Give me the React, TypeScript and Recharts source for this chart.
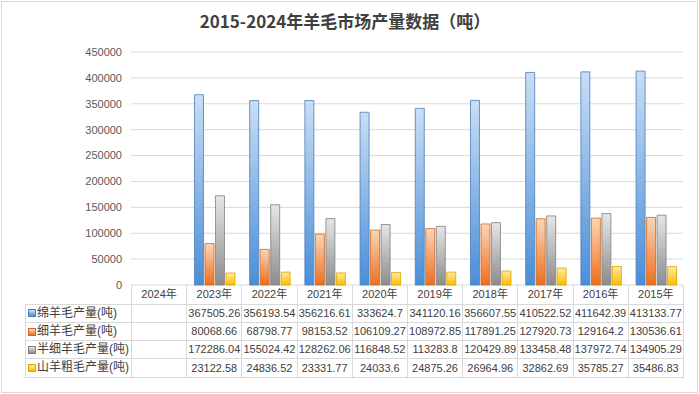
import React from 'react';
import { BarChart, Bar, XAxis, YAxis, CartesianGrid } from 'recharts';

const years = ['2024年', '2023年', '2022年', '2021年', '2020年', '2019年', '2018年', '2017年', '2016年', '2015年'];
const seriesNames = ['绵羊毛产量(吨)', '细羊毛产量(吨)', '半细羊毛产量(吨)', '山羊粗毛产量(吨)'];

const mianyang: (number | null)[] = [null, 367505.26, 356193.54, 356216.61, 333624.7, 341120.16, 356607.55, 410522.52, 411642.39, 413133.77];
const xiyang: (number | null)[] = [null, 80068.66, 68798.77, 98153.52, 106109.27, 108972.85, 117891.25, 127920.73, 129164.2, 130536.61];
const banxi: (number | null)[] = [null, 172286.04, 155024.42, 128262.06, 116848.52, 113283.8, 120429.89, 133458.48, 137972.74, 134905.29];
const shanyang: (number | null)[] = [null, 23122.58, 24836.52, 23331.77, 24033.6, 24875.26, 26964.96, 32862.69, 35785.27, 35486.83];

const yTicks = [0, 50000, 100000, 150000, 200000, 250000, 300000, 350000, 400000, 450000];

const seriesValues = [mianyang, xiyang, banxi, shanyang];
const keys = ['s0', 's1', 's2', 's3'];

// gradient top, gradient bottom, outline
const colors = [
  ['#c9def4', '#4a8ed8', '#4a7ebb'],
  ['#fcd6b8', '#ec6f1f', '#c8672a'],
  ['#e6e6e6', '#8c8c8c', '#808080'],
  ['#ffeaa0', '#ffbd00', '#d9a300'],
];

const data = years.map((y, i) => {
  const row: any = { year: y };
  seriesValues.forEach((vals, k) => {
    row[keys[k]] = vals[i];
  });
  return row;
});

const W = 699;
const H = 394;
const plotLeft = 131;
const plotRight = 683;
const plotTop = 52;
const plotBottom = 285;
const colW = (plotRight - plotLeft) / years.length;
const labelLeft = 25;

const font = '"Liberation Sans", "Noto Sans CJK SC", sans-serif';
const border = '1px solid #d9d9d9';

const App: React.FC = () => {
  const rowHeights = [18, 18, 18, 18];
  return (
    <div style={{ position: 'absolute', left: 0, top: 0, width: W, height: H, background: '#fff', fontFamily: font }}>
      <div
        style={{
          position: 'absolute', left: 1, top: 1, width: W - 4, height: H - 4,
          border: border, boxSizing: 'content-box',
        }}
      />
      <div
        style={{
          position: 'absolute', left: 0, top: 8, width: 690, textAlign: 'center',
          fontFamily: '"Noto Sans CJK SC", sans-serif', fontWeight: 'bold', fontSize: 17, color: '#404040',
        }}
      >
        2015-2024年羊毛市场产量数据（吨）
      </div>
      <div style={{ position: 'absolute', left: 0, top: 0 }}>
        <BarChart
          width={W}
          height={H}
          data={data}
          margin={{ top: plotTop, right: W - plotRight, left: 0, bottom: H - plotBottom }}
          barCategoryGap="15%"
          barGap={1.5}
        >
          <defs>
            {colors.map((c, i) => (
              <linearGradient key={i} id={'grad' + i} x1="0" y1="0" x2="0" y2="1">
                <stop offset="0%" stopColor={c[0]} />
                <stop offset="100%" stopColor={c[1]} />
              </linearGradient>
            ))}
          </defs>
          <CartesianGrid vertical={false} stroke="#d9d9d9" />
          <XAxis dataKey="year" height={0} tick={false} tickLine={false} axisLine={{ stroke: '#d9d9d9' }} />
          <YAxis
            width={plotLeft}
            domain={[0, 450000]}
            ticks={yTicks}
            interval={0}
            tickSize={0}
            tickMargin={9}
            axisLine={false}
            tickLine={false}
            tick={{ fill: '#595959', fontSize: 11, fontFamily: font }}
          />
          {keys.map((k, i) => (
            <Bar
              key={k}
              dataKey={k}
              name={seriesNames[i]}
              fill={`url(#grad${i})`}
              stroke={colors[i][2]}
              strokeWidth={0.8}
              isAnimationActive={false}
            />
          ))}
        </BarChart>
      </div>
      <table
        style={{
          position: 'absolute', left: labelLeft, top: plotBottom, borderCollapse: 'collapse',
          tableLayout: 'fixed', fontSize: 11, color: '#404040', fontFamily: font,
        }}
      >
        <colgroup>
          <col style={{ width: plotLeft - labelLeft }} />
          {years.map((y) => (
            <col key={y} style={{ width: colW }} />
          ))}
        </colgroup>
        <tbody>
          <tr style={{ height: 19 }}>
            <td style={{ padding: 0 }} />
            {years.map((y) => (
              <td key={y} style={{ padding: 0, borderLeft: border, borderRight: border, textAlign: 'center', lineHeight: '18px' }}>
                {y}
              </td>
            ))}
          </tr>
          {seriesNames.map((name, i) => (
            <tr key={name} style={{ height: rowHeights[i] }}>
              <td style={{ padding: 0, border: border, whiteSpace: 'nowrap', lineHeight: '17px', fontSize: 12 }}>
                <span
                  style={{
                    display: 'inline-block', width: 6, height: 6, marginLeft: 2, marginRight: 1,
                    background: `linear-gradient(${colors[i][0]}, ${colors[i][1]})`,
                    border: `1px solid ${colors[i][2]}`, verticalAlign: 'middle',
                  }}
                />
                <span style={{ verticalAlign: 'middle' }}>{name}</span>
              </td>
              {seriesValues[i].map((v, j) => (
                <td key={j} style={{ padding: 0, border: border, textAlign: 'center', whiteSpace: 'nowrap', lineHeight: '17px' }}>
                  {v === null ? '' : String(v)}
                </td>
              ))}
            </tr>
          ))}
        </tbody>
      </table>
    </div>
  );
};

export default App;
